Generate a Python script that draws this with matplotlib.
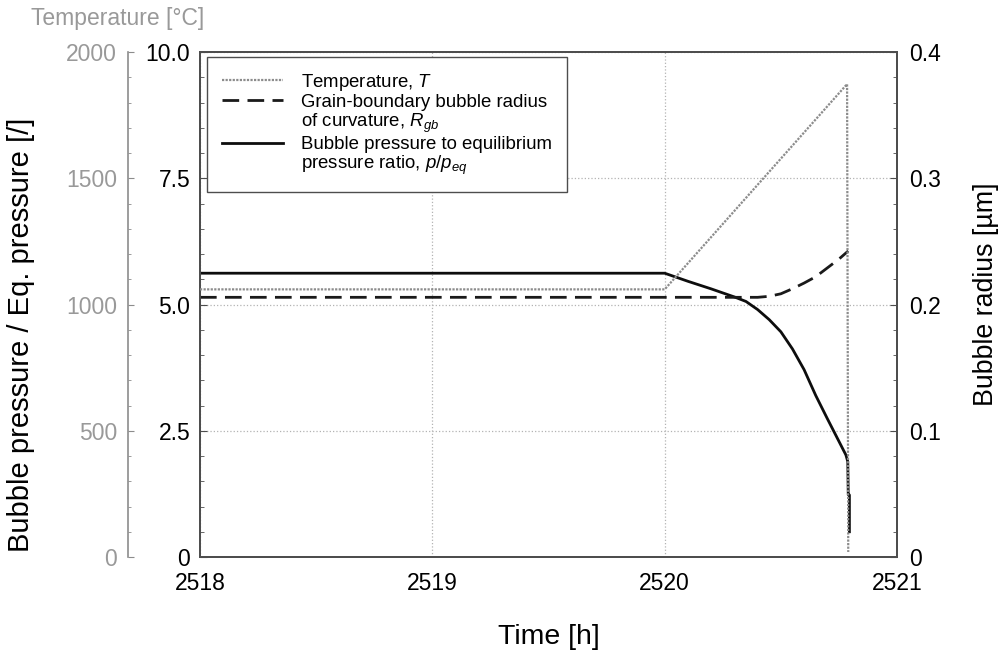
import matplotlib
matplotlib.use('Agg')
import matplotlib.pyplot as plt
from matplotlib.lines import Line2D
from matplotlib.ticker import MultipleLocator, FixedFormatter, FixedLocator

matplotlib.rcParams.update({
    'font.family': 'Liberation Sans',
    'mathtext.fontset': 'custom',
    'mathtext.rm': 'Liberation Sans',
    'mathtext.it': 'Liberation Sans:italic',
    'font.size': 16.5,
})

"Datos"

# temperatura
t_T = [2518.0, 2520.0, 2520.785, 2520.79]
T = [1060, 1060, 1873, 20]

# radio de curvatura de la burbuja
t_R = [2518.0, 2520.4, 2520.45, 2520.5, 2520.55, 2520.6, 2520.65, 2520.7, 2520.75, 2520.79]
R = [0.2057, 0.2057, 0.2065, 0.2085, 0.2125, 0.217, 0.222, 0.229, 0.236, 0.2424]

# presion / presion de equilibrio
t_p = [2518.0, 2520.0, 2520.1, 2520.2, 2520.3, 2520.35, 2520.4, 2520.45, 2520.5, 2520.55,
       2520.6, 2520.65, 2520.7, 2520.75, 2520.78, 2520.788, 2520.79, 2520.795, 2520.795]
p = [5.62, 5.62, 5.46, 5.31, 5.15, 5.06, 4.90, 4.70, 4.46, 4.12,
     3.71, 3.2, 2.74, 2.29, 2.02, 1.89, 1.23, 1.23, 0.5]

p_ticks = [0, 2.5, 5.0, 7.5, 10.0]
p_labels = ['0', '2.5', '5.0', '7.5', '10.0']
R_ticks = [0, 0.1, 0.2, 0.3, 0.4]
R_labels = ['0', '0.1', '0.2', '0.3', '0.4']
T_ticks = [0, 500, 1000, 1500, 2000]
T_labels = ['0', '500', '1000', '1500', '2000']
t_ticks = [2518, 2519, 2520, 2521]

"Grafico"

fig = plt.figure(figsize=(10.07, 6.52), dpi=100)
ax = fig.add_axes([0.1986, 0.1457, 0.6922, 0.7745])
axr = ax.twinx()
axt = ax.twinx()

grey = '0.55'

lT, = axt.plot(t_T, T, color=grey, lw=1.6, ls=(0, (1, 0.6)))
lR, = axr.plot(t_R, R, color='0.1', lw=2, ls=(0, (6, 3)))
lp, = ax.plot(t_p, p, color='0.05', lw=2)

ax.set_xlim(2518, 2521)
ax.set_ylim(0, 10)
axr.set_ylim(0, 0.4)
axt.set_ylim(0, 2000)

ax.xaxis.set_major_locator(FixedLocator(t_ticks))
ax.yaxis.set_major_locator(FixedLocator(p_ticks))
ax.yaxis.set_major_formatter(FixedFormatter(p_labels))
ax.yaxis.set_minor_locator(MultipleLocator(0.5))
axr.yaxis.set_major_locator(FixedLocator(R_ticks))
axr.yaxis.set_major_formatter(FixedFormatter(R_labels))
axr.yaxis.set_minor_locator(MultipleLocator(0.02))
axt.yaxis.set_major_locator(FixedLocator(T_ticks))
axt.yaxis.set_major_formatter(FixedFormatter(T_labels))
axt.yaxis.set_minor_locator(MultipleLocator(100))

ax.grid(True, which='major', ls=':', color='0.7', lw=0.9)

for a in (ax, axr):
    for s in a.spines.values():
        s.set_color('0.3')
        s.set_linewidth(1.3)

ax.tick_params(axis='both', which='both', direction='in', color='0.3')
ax.tick_params(axis='y', which='major', length=5, pad=7)
ax.tick_params(axis='y', which='minor', length=3)
ax.tick_params(axis='x', which='major', length=0, pad=11)
axr.tick_params(axis='y', which='both', direction='in', color='0.3', pad=9)
axr.tick_params(axis='y', which='major', length=5)
axr.tick_params(axis='y', which='minor', length=3)

# eje de temperatura desplazado a la izquierda
axt.spines['left'].set_position(('axes', -0.103))
axt.spines['left'].set_visible(True)
axt.spines['left'].set_linestyle((0, (1, 1)))
axt.spines['left'].set_color(grey)
axt.spines['left'].set_linewidth(1.2)
for k in ('right', 'top', 'bottom'):
    axt.spines[k].set_visible(False)
axt.yaxis.set_ticks_position('left')
axt.yaxis.set_label_position('left')
axt.tick_params(axis='y', which='both', direction='in', color=grey,
                labelcolor='0.6', labelsize=16.5, pad=8)
axt.tick_params(axis='y', which='major', length=4)
axt.tick_params(axis='y', which='minor', length=2)

fig.text(0.1167, 0.971, 'Temperature [°C]', color='0.6', fontsize=16.5,
         ha='center', va='center')

ax.set_xlabel('Time [h]', fontsize=20.5)
ax.xaxis.set_label_coords(0.5, -0.132)
ax.set_ylabel('Bubble pressure / Eq. pressure [/]', fontsize=21)
ax.yaxis.set_label_coords(-0.236, 0.44)
axr.set_ylabel('Bubble radius [µm]', fontsize=19.3)
axr.yaxis.set_label_coords(1.109, 0.52)

blank = Line2D([], [], color='none')
handles = [lT, lR, blank, lp, blank]
labels = ['Temperature, $T$', 'Grain-boundary bubble radius', 'of curvature, $R_{gb}$',
          'Bubble pressure to equilibrium', 'pressure ratio, $p/p_{eq}$']
leg = axt.legend(handles, labels, loc='upper left', bbox_to_anchor=(0.01, 0.99),
                 fontsize=13.4, frameon=True, fancybox=False, framealpha=1,
                 edgecolor='0.3', handlelength=3.3, labelspacing=0.05,
                 borderaxespad=0, handletextpad=0.95, borderpad=0.8)
leg.get_frame().set_linewidth(1.0)

fig.savefig('out.png', dpi=100)
